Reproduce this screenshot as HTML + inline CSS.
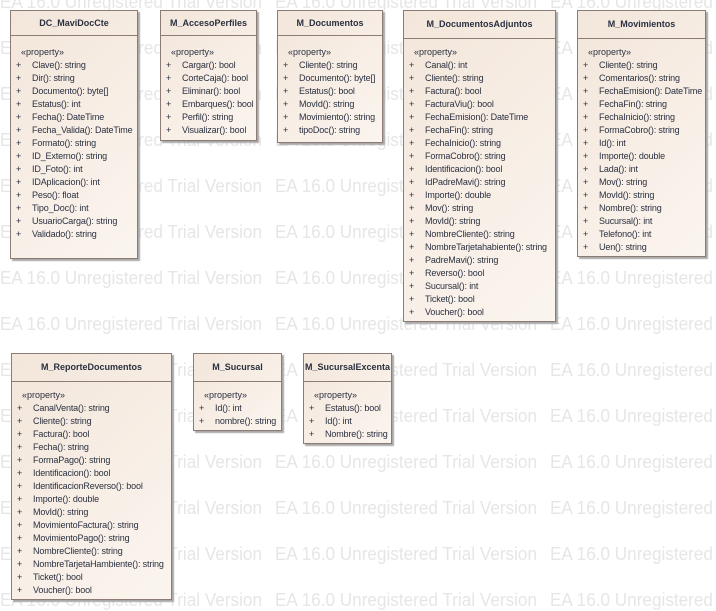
<!DOCTYPE html>
<html><head><meta charset="utf-8"><style>
html,body{margin:0;padding:0;background:#fff;width:716px;height:611px;overflow:hidden;position:relative;font-family:"Liberation Sans",sans-serif}
svg.wm{position:absolute;left:0;top:0}
.b{position:absolute;border:1px solid #8d7b76;background:linear-gradient(135deg,#f3e6da 0%,#fbf5ef 100%);box-shadow:2px 2px 1px #a9a9a9;box-sizing:border-box}
.h{position:absolute;left:0;right:0;top:0;border-bottom:1px solid #8d7b76;font-weight:bold;font-size:9px;text-align:center;color:#2a3040;white-space:nowrap}
.s{position:absolute;font-size:9px;color:#2a3040}
.r{position:absolute;font-size:9px;color:#2a3040;white-space:nowrap;letter-spacing:-0.15px}
</style></head><body>
<svg class="wm" width="716" height="611"><g font-family="Liberation Sans" font-size="18" fill="#e6e6e6" id="wm"></g></svg>
<div id="c"></div>
<script>
var g=document.getElementById('wm'),s='';
for(var y=8;y<640;y+=46)for(var x=0;x<716;x+=275)s+='<text x="'+x+'" y="'+y+'" textLength="262" lengthAdjust="spacingAndGlyphs">EA 16.0 Unregistered Trial Version</text>';
g.innerHTML=s;
var B=[
[10,10,128,249,24,'DC_MaviDocCte',['Clave(): string','Dir(): string','Documento(): byte[]','Estatus(): int','Fecha(): DateTime','Fecha_Valida(): DateTime','Formato(): string','ID_Externo(): string','ID_Foto(): int','IDAplicacion(): int','Peso(): float','Tipo_Doc(): int','UsuarioCarga(): string','Validado(): string']],
[160,10,97,131,24,'M_AccesoPerfiles',['Cargar(): bool','CorteCaja(): bool','Eliminar(): bool','Embarques(): bool','Perfil(): string','Visualizar(): bool']],
[277,10,106,133,24,'M_Documentos',['Cliente(): string','Documento(): byte[]','Estatus(): bool','MovId(): string','Movimiento(): string','tipoDoc(): string']],
[403,10,153,312,27,'M_DocumentosAdjuntos',['Canal(): int','Cliente(): string','Factura(): bool','FacturaViu(): bool','FechaEmision(): DateTime','FechaFin(): string','FechaInicio(): string','FormaCobro(): string','Identificacion(): bool','IdPadreMavi(): string','Importe(): double','Mov(): string','MovId(): string','NombreCliente(): string','NombreTarjetahabiente(): string','PadreMavi(): string','Reverso(): bool','Sucursal(): int','Ticket(): bool','Voucher(): bool']],
[577,10,129,247,27,'M_Movimientos',['Cliente(): string','Comentarios(): string','FechaEmision(): DateTime','FechaFin(): string','FechaInicio(): string','FormaCobro(): string','Id(): int','Importe(): double','Lada(): int','Mov(): string','MovId(): string','Nombre(): string','Sucursal(): int','Telefono(): int','Uen(): string']],
[11,353,161,247,27,'M_ReporteDocumentos',['CanalVenta(): string','Cliente(): string','Factura(): bool','Fecha(): string','FormaPago(): string','Identificacion(): bool','IdentificacionReverso(): bool','Importe(): double','MovId(): string','MovimientoFactura(): string','MovimientoPago(): string','NombreCliente(): string','NombreTarjetaHambiente(): string','Ticket(): bool','Voucher(): bool']],
[193,353,89,78,27,'M_Sucursal',['Id(): int','nombre(): string']],
[303,353,89,91,27,'M_SucursalExcenta',['Estatus(): bool','Id(): int','Nombre(): string']]
];
var h='';
B.forEach(function(b){
 var x=b[0],y=b[1],w=b[2],ht=b[3],hh=b[4];
 h+='<div class="b" style="left:'+x+'px;top:'+y+'px;width:'+w+'px;height:'+ht+'px"><div class="h" style="height:'+hh+'px;line-height:'+hh+'px">'+b[5]+'</div>';
 h+='<div class="s" style="left:10px;top:36px">«property»</div>';
 b[6].forEach(function(t,i){var ty=49+i*13;
  h+='<div class="r" style="left:5px;top:'+ty+'px">+</div><div class="r" style="left:21px;top:'+ty+'px">'+t.replace(/\[/g,'&#91;')+'</div>';});
 h+='</div>';
});
document.getElementById('c').innerHTML=h;
</script>
</body></html>
